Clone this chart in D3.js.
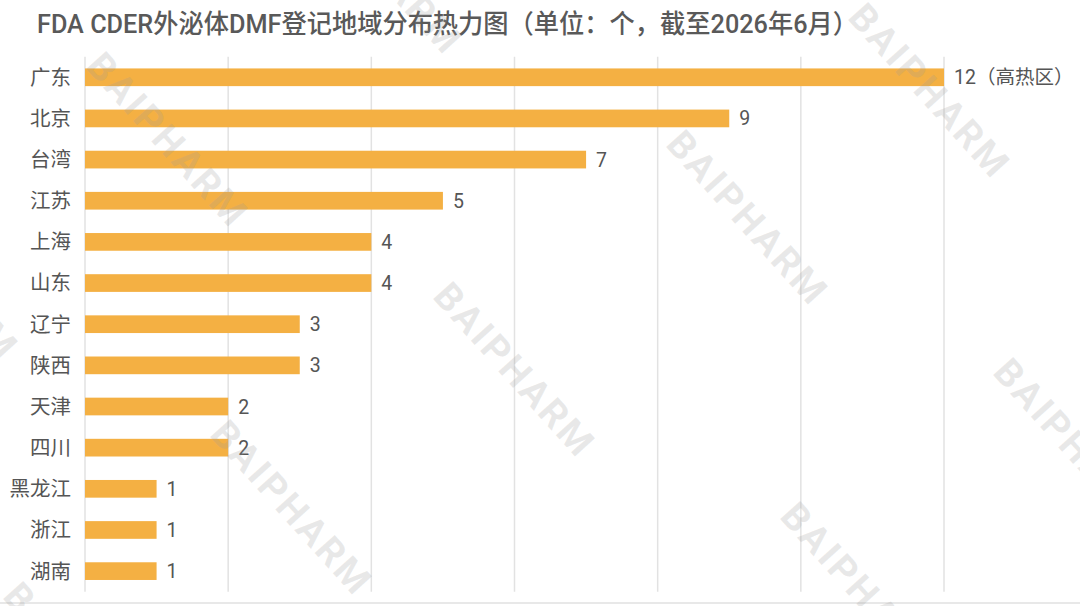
<!DOCTYPE html>
<html><head><meta charset="utf-8">
<script src="https://cdn.jsdelivr.net/npm/d3@7"></script>
<style>
html,body{margin:0;padding:0;background:#fff;}
svg{display:block;font-family:Roboto,"Noto Sans CJK SC",sans-serif;}
</style></head>
<body>
<svg id="chart" width="1080" height="606"></svg>
<script>
const titleText = "FDA CDER外泌体DMF登记地域分布热力图（单位：个，截至2026年6月）";
const regions = ["广东","北京","台湾","江苏","上海","山东","辽宁","陕西","天津","四川","黑龙江","浙江","湖南"];
const counts = [12,9,7,5,4,4,3,3,2,2,1,1,1];
const valueLabels = ["12（高热区）","9","7","5","4","4","3","3","2","2","1","1","1"];
const gridTicks = [0,2,4,6,8,10,12];
const watermarkText = "BAIPHARM";

(function(){
const svg = d3.select("#chart");
const W = 1080, H = 606;
const mLeft = 85, mRight = 944, mTop = 56.7, mBottom = 591.7;

const x = d3.scaleLinear().domain([0,12]).range([mLeft,mRight]);
const y = d3.scaleBand().domain(regions).range([mTop,mBottom]).paddingInner(0.57).paddingOuter(0.285);

svg.append("rect").attr("width",W).attr("height",H).attr("fill","#fff");

// title
svg.append("text").attr("x",37).attr("y",33)
  .attr("font-size",26).attr("font-weight",500).attr("fill","#595959")
  .attr("textLength",821).attr("lengthAdjust","spacingAndGlyphs")
  .text(titleText);

// grid
svg.append("g").selectAll("line").data(gridTicks).join("line")
  .attr("x1",d=>x(d)).attr("x2",d=>x(d))
  .attr("y1",mTop).attr("y2",mBottom)
  .attr("stroke","#e2e2e2").attr("stroke-width",1.5);

// bars
svg.append("g").selectAll("rect").data(regions).join("rect")
  .attr("x",x(0)).attr("y",d=>y(d))
  .attr("width",(d,i)=>x(counts[i])-x(0))
  .attr("height",y.bandwidth())
  .attr("fill","#F4B043");

// category labels
svg.append("g").selectAll("text").data(regions).join("text")
  .attr("x",71).attr("y",d=>y(d)+y.bandwidth()/2)
  .attr("dy","0.36em").attr("text-anchor","end")
  .attr("font-size",20.5).attr("fill","#555")
  .text(d=>d);

// value labels
svg.append("g").selectAll("text").data(regions).join("text")
  .attr("x",(d,i)=>x(counts[i])+10).attr("y",d=>y(d)+y.bandwidth()/2)
  .attr("dy","0.36em")
  .attr("font-size",19.5).attr("fill","#555")
  .text((d,i)=>valueLabels[i]);

// bottom border
svg.append("line").attr("x1",0).attr("x2",W).attr("y1",603).attr("y2",603)
  .attr("stroke","#e8e8e8").attr("stroke-width",2);

// watermarks (decorative)
const wmCenters = [[168,140],[382,-33],[930,91],[748,218],[515,370],[292,508],[862,590],[1075,446],[-62,273],[85,670]];
svg.append("g").selectAll("text").data(wmCenters).join("text")
  .attr("transform",d=>`translate(${d[0]},${d[1]}) rotate(48)`)
  .attr("text-anchor","middle").attr("dy","0.35em")
  .attr("font-size",38).attr("font-weight",700).attr("letter-spacing",3)
  .attr("fill","#9a9a9a").attr("fill-opacity",0.22)
  .text(watermarkText);
})();
</script>
</body></html>
